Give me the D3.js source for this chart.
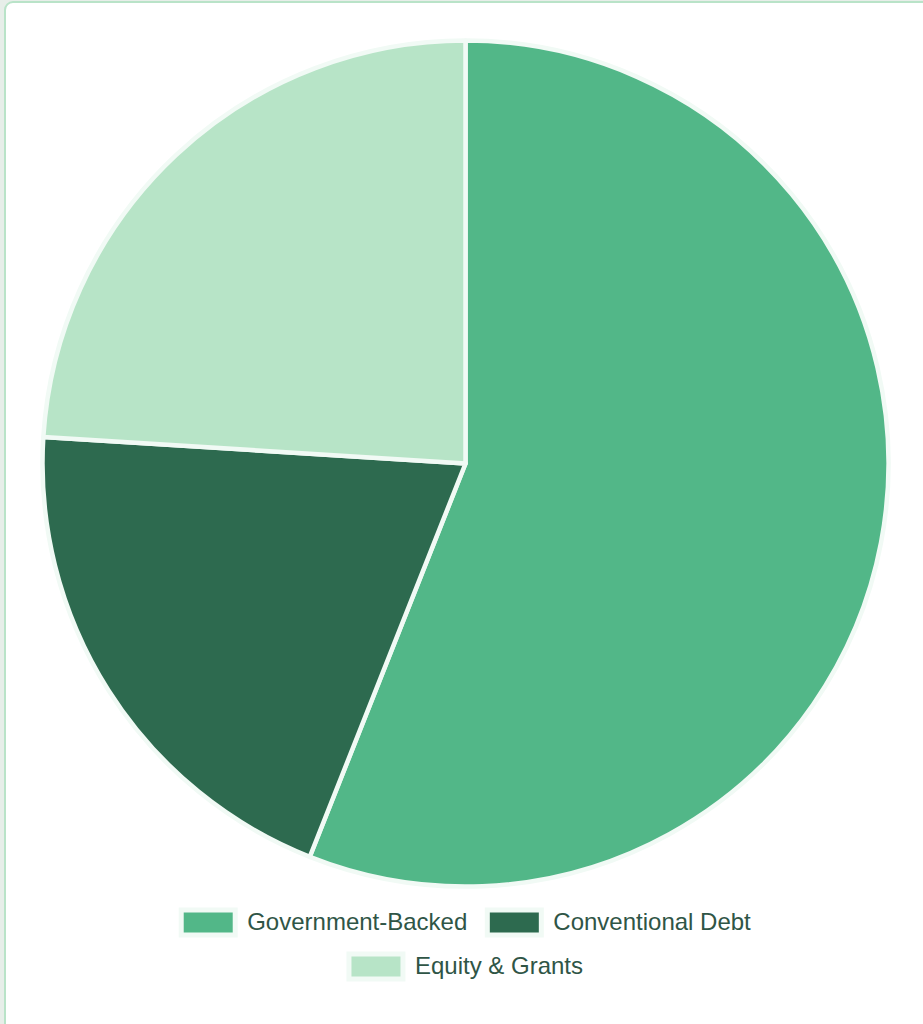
<!DOCTYPE html>
<html>
<head>
<meta charset="utf-8">
<script src="https://cdn.jsdelivr.net/npm/d3@7"></script>
<style>
  html, body { margin: 0; padding: 0; background: #e7eee9; overflow: hidden; }
  #card {
    position: absolute; left: 4px; top: 1px; width: 940px; height: 1040px;
    background: #fff; border: 2.5px solid #b9e3c8; border-radius: 9px; box-sizing: border-box;
  }
  svg { position: absolute; left: 0; top: 0; }
</style>
</head>
<body>
<div id="card"></div>
<svg id="chart" width="923" height="1024"></svg>
<script>
// funding mix (%)
var categories = ["Government-Backed", "Conventional Debt", "Equity & Grants"]
var values = [56, 20, 24]
var colors = ["#52b788", "#2d6a4f", "#b7e4c7"]

draw()
function draw() {
    var svg = d3.select("#chart")
    var cx = 465.5, cy = 463.5, radius = 423
    var border = "#f1faf5"

    var pie = d3.pie().sort(null).value(d => d.value)
    var arc = d3.arc().innerRadius(0).outerRadius(radius)
    var data = categories.map((c, i) => ({ name: c, value: values[i], color: colors[i] }))

    var g = svg.append("g")
        .attr("transform", "translate(" + cx + "," + cy + ")")

    g.selectAll("path")
        .data(pie(data))
        .enter().append("path")
        .attr("d", arc)
        .attr("fill", d => d.data.color)
        .attr("stroke", border)
        .attr("stroke-width", 4.5)
        .attr("stroke-linejoin", "round")

    // legend, wrapped in centered rows like chart.js
    var fontSize = 24, boxW = 54, boxH = 25, gap = 20, maxW = 640
    var rowY0 = 922.5, rowStep = 44
    var legend = svg.append("g")

    var items = data.map(d => {
        var t = legend.append("text")
            .text(d.name)
            .style("font-family", "'Liberation Sans', Arial, sans-serif")
            .style("font-size", fontSize + "px")
            .attr("fill", "#2f5546")
        var w = t.node().getComputedTextLength()
        return { d: d, text: t, w: boxW + fontSize / 2 + w }
    })

    var rows = [[]], rowW = [0]
    items.forEach(it => {
        var r = rows.length - 1
        var add = rows[r].length ? gap + it.w : it.w
        if (rows[r].length && rowW[r] + add > maxW) {
            rows.push([it]); rowW.push(it.w)
        } else {
            rows[r].push(it); rowW[r] += add
        }
    })

    rows.forEach((row, r) => {
        var x = cx + 0.5 - rowW[r] / 2
        var y = rowY0 + r * rowStep
        row.forEach(it => {
            legend.append("rect")
                .attr("x", x)
                .attr("y", y - boxH / 2)
                .attr("width", boxW)
                .attr("height", boxH)
                .attr("fill", it.d.color)
                .attr("stroke", border)
                .attr("stroke-width", 5)
            it.text
                .attr("x", x + boxW + fontSize / 2)
                .attr("y", y)
                .attr("dy", "0.3em")
            x += it.w + gap
        })
    })
}
</script>
</body>
</html>
